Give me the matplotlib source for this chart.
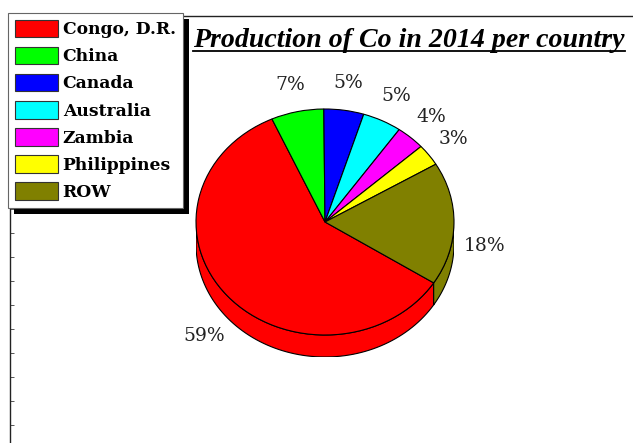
import numpy as np
import matplotlib
matplotlib.use('Agg')
import matplotlib.pyplot as plt
from matplotlib.patches import Polygon, Rectangle
from matplotlib.lines import Line2D

# cobalt production 2014, share per country (%)
countries = ['Congo, D.R.', 'China', 'Canada', 'Australia', 'Zambia', 'Philippines', 'ROW']
shares = [59.2, 6.6, 5.0, 4.9, 3.6, 3.1, 17.6]
colors = ['#ff0000', '#00ff00', '#0000ff', '#00ffff', '#ff00ff', '#ffff00', '#808000']
title = 'Production of Co in 2014 per country'

W, H = 633, 443
fig = plt.figure(figsize=(W / 100, H / 100), dpi=100)

# chart frame (left + top border with small ticks)
bg = fig.add_axes([10 / W, 0, (W - 10) / W, (H - 16) / H], zorder=0)
bg.set_xlim(0, 1)
bg.set_ylim(0, H - 16)
for s in ['right', 'bottom']:
    bg.spines[s].set_visible(False)
for s in ['left', 'top']:
    bg.spines[s].set_color('#222222')
    bg.spines[s].set_linewidth(1.0)
bg.set_xticks([])
bg.set_yticks(np.arange(18, H - 16, 24))
bg.tick_params(axis='y', direction='in', length=3, width=0.7, labelleft=False, color='#555555')

# pie (ellipse: rx=129px, ry=113px, depth 22px)
cx, cy, rx, ry, dpx = 325, 222, 129, 113, 22
d = dpx / ry
ax = fig.add_axes([(cx - rx) / W, (H - cy - ry - dpx) / H, 2 * rx / W, (2 * ry + dpx) / H], zorder=1)
wedges, _ = ax.pie(shares, colors=colors, startangle=327.4, counterclock=False,
                   wedgeprops=dict(edgecolor='black', linewidth=0.8), frame=False)
ax.set_aspect('auto')
ax.set_xlim(-1, 1)
ax.set_ylim(-1 - d, 1)
ax.axis('off')

total = sum(shares)
for w, c, v in zip(wedges, colors, shares):
    t1, t2 = w.theta1, w.theta2
    # visible front side: angles 180..360
    for off in (0, 360, -360):
        a = max(t1 + off, 180)
        b = min(t2 + off, 360)
        if b > a:
            t = np.radians(np.linspace(a, b, 80))
            top = np.column_stack([np.cos(t), np.sin(t)])
            bot = np.column_stack([np.cos(t[::-1]), np.sin(t[::-1]) - d])
            ax.add_patch(Polygon(np.vstack([top, bot]), closed=True, facecolor=c,
                                 edgecolor='black', linewidth=0.8, zorder=0.5))
    mid = np.radians((t1 + t2) / 2)
    lx, ly = 1.24 * np.cos(mid), 1.24 * np.sin(mid)
    if np.sin(mid) < 0.2:
        ly -= d
    ax.text(lx, ly, '%.0f%%' % (v / total * 100), ha='center', va='center',
            fontsize=13.5, family='DejaVu Serif', color='#222222', clip_on=False)

# title with underline
tt = fig.text(409 / W, 1 - 47 / H, title, ha='center', va='baseline', fontsize=17,
              weight='bold', style='italic', family='Liberation Serif', color='black')

# legend
handles = [Rectangle((0, 0), 1, 1, facecolor=c, edgecolor='#333333', linewidth=0.8) for c in colors]
leg = fig.legend(handles, countries, loc='upper left', bbox_to_anchor=(8 / W, 1 - 13 / H),
                 bbox_transform=fig.transFigure, borderaxespad=0, fancybox=False,
                 frameon=True, edgecolor='#666666', framealpha=1,
                 prop=dict(family='DejaVu Serif', weight='bold', size=12.3),
                 handlelength=2.5, handleheight=1.2, handletextpad=0.3,
                 labelspacing=0.5, borderpad=0.4)
leg.get_frame().set_linewidth(0.8)

fig.canvas.draw()
r = fig.canvas.get_renderer()
# fit title width to ~432 px
tw = tt.get_window_extent(r).width
tt.set_fontsize(17 * 432 / tw)
fig.canvas.draw()

bb = leg.get_window_extent(r).transformed(fig.transFigure.inverted())
fig.add_artist(Rectangle((bb.x0 + 6 / W, bb.y0 - 6 / H), bb.width, bb.height,
                         transform=fig.transFigure, facecolor='black', edgecolor='none', zorder=4.9))
tb = tt.get_window_extent(r).transformed(fig.transFigure.inverted())
fig.add_artist(Line2D([tb.x0, tb.x1], [1 - 50.5 / H] * 2, transform=fig.transFigure,
                      color='black', linewidth=1.3))

fig.savefig('out.png', dpi=100)
